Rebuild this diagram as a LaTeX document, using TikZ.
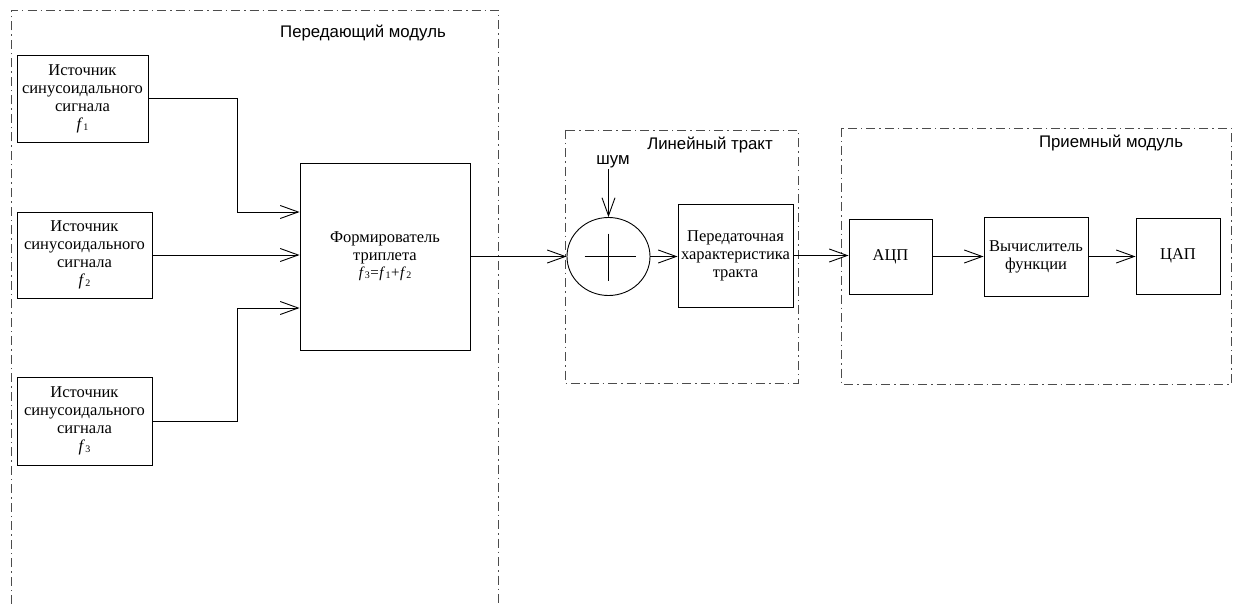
\documentclass[tikz,border=0pt]{standalone}
\usepackage{fontspec}
\setmainfont{Liberation Serif}
\newfontfamily\labelfont{Liberation Sans}
\usetikzlibrary{arrows.meta,shapes.geometric,calc}
\tikzset{
  blk/.style={draw=black, line width=0.9pt, rectangle, inner sep=0pt, align=center,
              font=\fontsize{16.5}{18}\selectfont},
  grp/.style={draw=black!70, line width=0.9pt, dash pattern=on 9pt off 4pt on 1.5pt off 4pt},
  lbl/.style={font=\labelfont\fontsize{16.8}{19}\selectfont, inner sep=1pt},
  arr/.style={draw=black, line width=0.9pt, -{Straight Barb[length=18pt,width=13pt,line width=0.9pt]}},
  ln/.style={draw=black, line width=0.9pt}
}
\newcommand{\fsub}[1]{\textit{f}\kern0.3pt{\fontsize{10}{10}\selectfont\raisebox{-0.25ex}{#1}}}
\begin{document}
\begin{tikzpicture}[x=1pt,y=-1pt]
\useasboundingbox (0,0) rectangle (1236,604);
% group frames
\draw[grp] (11,604) -- (11,10) -- (498,10) -- (498,604);
\draw[grp] (565,130) rectangle (798,383);
\draw[grp] (841,128) rectangle (1231,384);
% labels
\node[lbl] (ltx) at (363,33) {Передающий модуль};
\node[lbl] (llin) at (710,145) {Линейный тракт};
\node[lbl] (lrx) at (1111,143) {Приемный модуль};
\node[lbl] (noise) at (613,162) {шум};
% sources
\node[blk, minimum width=131pt, minimum height=87pt] (s1) at (82.5,98.5)
  {Источник\\синусоидального\\сигнала\\\fsub{1}};
\node[blk, minimum width=135pt, minimum height=86pt] (s2) at (84.5,255)
  {Источник\\синусоидального\\сигнала\\\fsub{2}};
\node[blk, minimum width=135pt, minimum height=88pt] (s3) at (84.5,421)
  {Источник\\синусоидального\\сигнала\\\fsub{3}};
% former
\node[blk, minimum width=170pt, minimum height=187pt] (form) at (385,256.5)
  {Формирователь\\триплета\\[-1pt]{\fontsize{15}{16}\selectfont\fsub{3}\kern0.5pt=\kern0.5pt\fsub{1}\kern0.5pt+\kern0.5pt\fsub{2}}};
% summator
\node[draw=black, line width=0.9pt, ellipse, minimum width=83pt, minimum height=78pt, inner sep=0pt] (sum) at (608.5,256.5) {};
\draw[ln] ($(sum.center)+(-24,0)$) -- ($(sum.center)+(27,0)$);
\draw[ln] ($(sum.center)+(0,-23)$) -- ($(sum.center)+(0,24)$);
% transfer
\node[blk, minimum width=115pt, minimum height=103pt] (tr) at (735.5,255.5)
  {Передаточная\\характеристика\\тракта};
% receiver
\node[blk, minimum width=83pt, minimum height=75pt] (adc) at (890.5,256.5) {АЦП};
\node[blk, minimum width=104pt, minimum height=79pt] (calc) at (1036,256.5) {Вычислитель\\функции};
\node[blk, minimum width=84pt, minimum height=76pt] (dac) at (1178,256) {ЦАП};
% junction column
\coordinate (j) at (237,0);
% connectors
\draw[arr] (s1.east) -- (s1.east -| j) |- ([yshift=44.5pt]form.west);
\draw[arr] (s2.east) -- (s2.east -| form.west);
\draw[arr] (s3.east) -- (s3.east -| j) |- ([yshift=-51.5pt]form.west);
\draw[arr] (form.east) -- (sum.west);
\draw[arr] (noise.south -| sum.north) -- (sum.north);
\draw[arr] (sum.east) -- (sum.east -| tr.west);
\draw[arr] (tr.east) -- (tr.east -| adc.west);
\draw[arr] (adc.east) -- (adc.east -| calc.west);
\draw[arr] (calc.east) -- (calc.east -| dac.west);
\end{tikzpicture}
\end{document}
